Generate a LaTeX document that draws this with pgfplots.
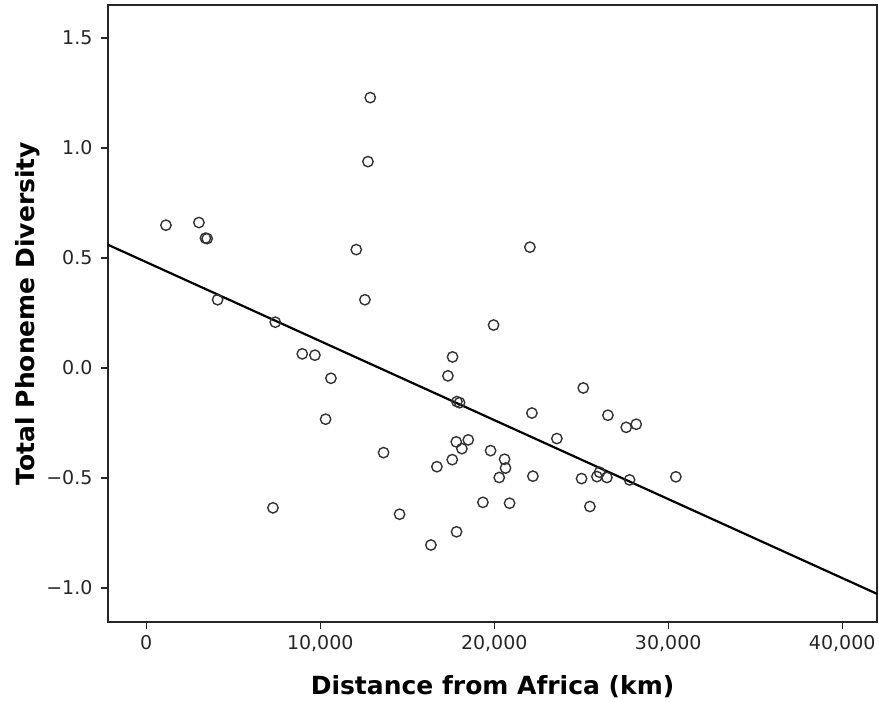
\documentclass[border=0pt]{standalone}
\usepackage{fontspec}
\setmainfont{DejaVu Sans}
\usepackage{pgfplots}
\pgfplotsset{compat=1.18}

\begin{document}
\begin{tikzpicture}[x=1pt,y=1pt]
\begin{axis}[
    scale only axis,
    width=769pt, height=617pt,
    xmin=-2200, xmax=42000,
    ymin=-1.155, ymax=1.65,
    scaled x ticks=false,
    xtick={0,10000,20000,30000,40000},
    xticklabels={0,{10,000},{20,000},{30,000},{40,000}},
    ytick={-1,-0.5,0,0.5,1,1.5},
    yticklabels={−1.0,−0.5,0.0,0.5,1.0,1.5},
    xtick pos=left, ytick pos=left,
    tick align=outside,
    major tick length=7pt,
    axis line style={line width=1.2pt, black!85},
    every tick/.style={line width=1.2pt, black!85},
    tick label style={font=\fontsize{19}{21}\selectfont, text=black!85},
    xticklabel style={yshift=-3pt},
    yticklabel style={xshift=-5pt},
    xlabel={\bfseries Distance from Africa (km)},
    ylabel={\bfseries Total Phoneme Diversity},
    label style={font=\fontsize{25}{28}\selectfont},
    xlabel style={at={(axis description cs:0.5,0)}, anchor=center, yshift=-65pt},
    ylabel style={at={(axis description cs:0,0.5)}, anchor=center, yshift=80pt},
]
% data points (distance km, phoneme diversity)
\addplot[only marks, mark=o, mark size=5.2pt, mark options={line width=1.4pt, black!80}] coordinates {
(1130,0.649) (3027,0.661) (3400,0.590) (3500,0.588) (4100,0.310)
(7414,0.208) (8966,0.064) (9693,0.058) (10613,-0.047) (10307,-0.233)
(7280,-0.636) (12069,0.538) (12567,0.310) (12741,0.938) (12874,1.229)
(13640,-0.385) (14559,-0.665) (16360,-0.805) (16705,-0.449) (17337,-0.036)
(17605,0.050) (17854,-0.153) (18008,-0.158) (17816,-0.336) (18506,-0.327)
(18142,-0.367) (17586,-0.417) (17835,-0.745) (19349,-0.611) (19789,-0.376)
(19962,0.195) (20594,-0.415) (20649,-0.455) (20287,-0.498) (20881,-0.615)
(22050,0.549) (22165,-0.205) (22222,-0.492) (23601,-0.321) (25115,-0.091)
(25019,-0.503) (25498,-0.630) (25900,-0.494) (26054,-0.474) (26475,-0.498)
(26533,-0.215) (27586,-0.270) (28161,-0.256) (27778,-0.509) (30441,-0.495)
};
% fit line
\addplot[black, line width=2.2pt] coordinates {(-2200,0.560) (42000,-1.027)};
\end{axis}
\pgfresetboundingbox
\path[use as bounding box] (current axis.south west) ++(-108pt,-80pt) rectangle ++(879pt,702pt);
\end{tikzpicture}
\end{document}
